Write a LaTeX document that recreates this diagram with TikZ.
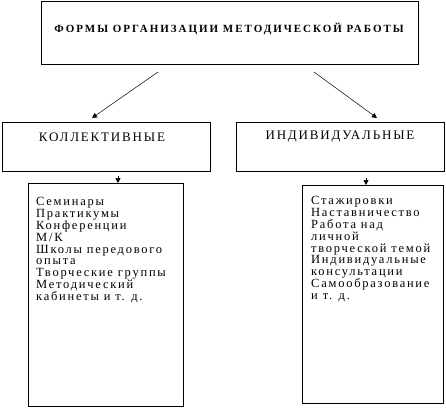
\documentclass[tikz,border=0pt]{standalone}
\usepackage{fontspec}
\setmainfont{Liberation Serif}
\usetikzlibrary{arrows.meta}
\newfontfamily\listfont[LetterSpace=14]{Liberation Serif}
\newfontfamily\headfont[LetterSpace=14]{Liberation Serif}
\newfontfamily\titlefont[LetterSpace=18]{Liberation Serif}
\begin{document}
\begin{tikzpicture}[x=1pt,y=-1pt,
  box/.style={draw, line width=0.8pt, inner sep=0pt, anchor=north west},
  conn/.style={line width=0.5pt, -{Triangle[width=5pt,length=5pt]}},
  listtext/.style={anchor=north west, inner sep=0pt, align=left,
    font=\listfont\fontsize{12.5}{11.9}\selectfont},
  headtext/.style={inner sep=0pt, font=\headfont\fontsize{13}{15}\selectfont},
  titletext/.style={inner sep=0pt, font=\titlefont\bfseries\fontsize{11}{13}\selectfont}
]
\useasboundingbox (0,0) rectangle (446,407);
% top box
\node[box, minimum width=377pt, minimum height=63pt] (top) at (41,1) {};
\node[titletext] (toptext) at (229,29) {ФОРМЫ ОРГАНИЗАЦИИ МЕТОДИЧЕСКОЙ РАБОТЫ};
% second level boxes
\node[box, minimum width=208pt, minimum height=49pt] (coll) at (2,122) {};
\node[headtext] (colltext) at (102,137) {КОЛЛЕКТИВНЫЕ};
\node[box, minimum width=208pt, minimum height=49pt] (indiv) at (236,122) {};
\node[headtext] (indivtext) at (340,137) {ИНДИВИДУАЛЬНЫЕ};
% list boxes
\node[box, minimum width=155pt, minimum height=223pt] (colllist) at (28,183) {};
\node[listtext] (colllisttext) at (36,197) {Семинары\\Практикумы\\Конференции\\М/К\\Школы передового\\опыта\\Творческие группы\\Методический\\кабинеты и т. д.};
\node[box, minimum width=141pt, minimum height=218pt] (indivlist) at (302,185) {};
\node[listtext] (indivlisttext) at (311,196) {Стажировки\\Наставничество\\Работа над\\личной\\творческой темой\\Индивидуальные\\консультации\\Самообразование\\и т. д.};
% connectors
\coordinate (s1) at (158,72);
\coordinate (e1) at (92,118);
\coordinate (s2) at (314,72);
\coordinate (e2) at (377,118);
\draw[conn] (s1) -- (e1);
\draw[conn] (s2) -- (e2);
\coordinate (s3) at (118,176);
\coordinate (s4) at (366,178);
\draw[conn] (s3) -- (s3 |- colllist.north);
\draw[conn] (s4) -- (s4 |- indivlist.north);
\end{tikzpicture}
\end{document}
